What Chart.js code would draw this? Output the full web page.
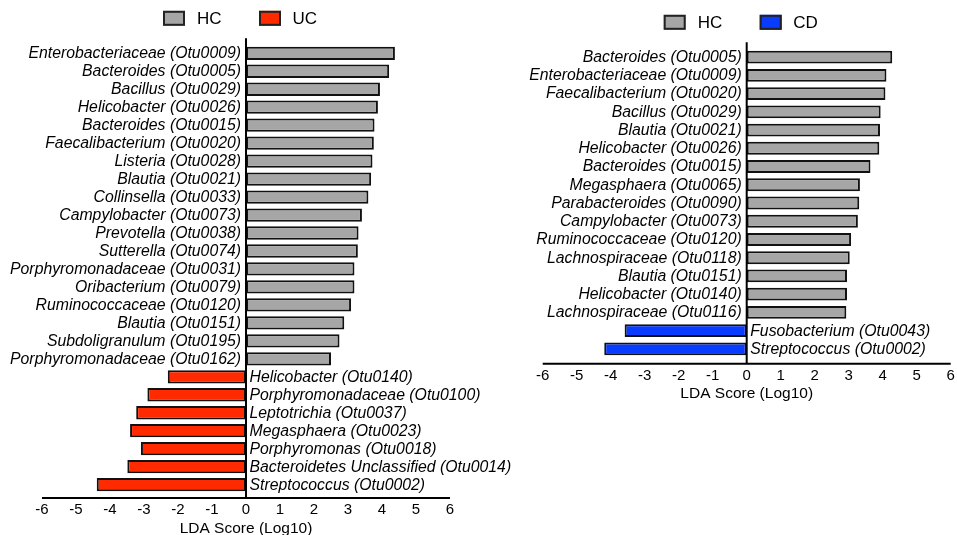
<!DOCTYPE html>
<html>
<head>
<meta charset="utf-8">
<script src="https://cdn.jsdelivr.net/npm/chart.js@4.4.1/dist/chart.umd.min.js"></script>
<style>
  html, body { margin: 0; padding: 0; background: #fff; }
  #wrap { position: relative; width: 957px; height: 535px; overflow: hidden; }
  #ucChart { position: absolute; left: 0; top: 0; }
  #cdChart { position: absolute; left: 490px; top: 0; }
</style>
</head>
<body>
<div id="wrap">
  <canvas id="ucChart" width="540" height="536"></canvas>
  <canvas id="cdChart" width="490" height="410"></canvas>
</div>
<script>
// LDA scores
const xMin = -6;
const xMax = 6;
const xStep = 1;

// HC vs UC
const hcTaxaUC = [
  'Enterobacteriaceae (Otu0009)', 'Bacteroides (Otu0005)', 'Bacillus (Otu0029)',
  'Helicobacter (Otu0026)', 'Bacteroides (Otu0015)', 'Faecalibacterium (Otu0020)',
  'Listeria (Otu0028)', 'Blautia (Otu0021)', 'Collinsella (Otu0033)',
  'Campylobacter (Otu0073)', 'Prevotella (Otu0038)', 'Sutterella (Otu0074)',
  'Porphyromonadaceae (Otu0031)', 'Oribacterium (Otu0079)', 'Ruminococcaceae (Otu0120)',
  'Blautia (Otu0151)', 'Subdoligranulum (Otu0195)', 'Porphyromonadaceae (Otu0162)'
];
const hcScoresUC = [4.38, 4.21, 3.94, 3.88, 3.78, 3.76, 3.72, 3.68, 3.60,
  3.41, 3.31, 3.29, 3.19, 3.19, 3.09, 2.89, 2.75, 2.50];
const ucTaxa = [
  'Helicobacter (Otu0140)', 'Porphyromonadaceae (Otu0100)', 'Leptotrichia (Otu0037)',
  'Megasphaera (Otu0023)', 'Porphyromonas (Otu0018)', 'Bacteroidetes Unclassified (Otu0014)',
  'Streptococcus (Otu0002)'
];
const ucScores = [-2.30, -2.90, -3.23, -3.41, -3.09, -3.49, -4.39];

// HC vs CD
const hcTaxaCD = [
  'Bacteroides (Otu0005)', 'Enterobacteriaceae (Otu0009)', 'Faecalibacterium (Otu0020)',
  'Bacillus (Otu0029)', 'Blautia (Otu0021)', 'Helicobacter (Otu0026)',
  'Bacteroides (Otu0015)', 'Megasphaera (Otu0065)', 'Parabacteroides (Otu0090)',
  'Campylobacter (Otu0073)', 'Ruminococcaceae (Otu0120)', 'Lachnospiraceae (Otu0118)',
  'Blautia (Otu0151)', 'Helicobacter (Otu0140)', 'Lachnospiraceae (Otu0116)'
];
const hcScoresCD = [4.28, 4.11, 4.08, 3.94, 3.92, 3.90, 3.64, 3.33, 3.31,
  3.27, 3.07, 3.03, 2.95, 2.95, 2.93];
const cdTaxa = ['Fusobacterium (Otu0043)', 'Streptococcus (Otu0002)'];
const cdScores = [-3.59, -4.19];

const FONT = '"Liberation Sans", Arial, Helvetica, sans-serif';

// zero line, bottom axis line, taxon labels and legend
const lefsePlugin = {
  id: 'lefse',
  afterDatasetsDraw(chart, args, opts) {
    const { ctx, chartArea } = chart;
    const xs = chart.scales.x;
    const ys = chart.scales.y;
    const zero = xs.getPixelForValue(0);
    const lineTop = chartArea.top - opts.topGap;
    const axisY = chartArea.bottom + opts.axisGap;

    ctx.save();
    ctx.strokeStyle = '#000';
    ctx.lineWidth = 2;
    ctx.beginPath();
    ctx.moveTo(zero, lineTop);
    ctx.lineTo(zero, axisY);
    ctx.moveTo(chartArea.left, axisY);
    ctx.lineTo(chartArea.right, axisY);
    ctx.stroke();

    ctx.font = 'italic 15.8px ' + FONT;
    ctx.fillStyle = '#000';
    ctx.textBaseline = 'middle';
    const hcData = chart.data.datasets[0].data;
    chart.data.labels.forEach((name, i) => {
      const yy = ys.getPixelForValue(i) + 0.5;
      if (hcData[i] !== null) {
        ctx.textAlign = 'right';
        ctx.fillText(name, zero - 5, yy);
      } else {
        ctx.textAlign = 'left';
        ctx.fillText(name, zero + 3.5, yy);
      }
    });

    // legend
    const ly = lineTop - 20;
    ctx.font = '17px ' + FONT;
    ctx.textAlign = 'left';
    const items = [
      { ds: chart.data.datasets[0], box: zero - 83, text: zero - 49 },
      { ds: chart.data.datasets[1], box: zero + 13, text: zero + 46.5 }
    ];
    items.forEach(it => {
      ctx.fillStyle = it.ds.backgroundColor;
      ctx.fillRect(it.box, ly - 7.5, 22, 15);
      ctx.lineWidth = 2;
      ctx.strokeStyle = '#222';
      ctx.strokeRect(it.box + 1, ly - 6.5, 20, 13);
      ctx.fillStyle = '#000';
      ctx.fillText(it.ds.label, it.text, ly + 1);
    });
    ctx.restore();
  }
};

function makeChart(canvasId, hcTaxa, hcScores, otherTaxa, otherScores, otherName, otherColor, lay) {
  const labels = hcTaxa.concat(otherTaxa);
  const hcData = hcScores.concat(otherScores.map(() => null));
  const otherData = hcScores.map(() => null).concat(otherScores);
  return new Chart(document.getElementById(canvasId), {
    type: 'bar',
    data: {
      labels: labels,
      datasets: [
        { label: 'HC', data: hcData, backgroundColor: '#a6a6a6' },
        { label: otherName, data: otherData, backgroundColor: otherColor }
      ]
    },
    options: {
      indexAxis: 'y',
      responsive: false,
      animation: false,
      devicePixelRatio: 1,
      layout: { padding: lay.padding },
      datasets: {
        bar: {
          borderColor: '#111',
          borderWidth: 2,
          borderSkipped: false,
          barPercentage: lay.barPct,
          categoryPercentage: 1
        }
      },
      scales: {
        y: { type: 'category', stacked: true, display: false },
        x: {
          type: 'linear',
          stacked: true,
          min: xMin,
          max: xMax,
          afterFit(scale) { scale.height = lay.xHeight; },
          grid: { display: false, drawTicks: false },
          border: { display: false },
          ticks: {
            stepSize: xStep,
            padding: lay.tickPad,
            color: '#000',
            font: { family: FONT, size: 15 }
          },
          title: {
            display: true,
            text: 'LDA Score (Log10)',
            color: '#000',
            padding: 0,
            font: { family: FONT, size: 15.5, lineHeight: 1 }
          }
        }
      },
      plugins: {
        legend: { display: false },
        tooltip: { enabled: false },
        lefse: { topGap: lay.topGap, axisGap: lay.axisGap }
      }
    },
    plugins: [lefsePlugin]
  });
}

makeChart('ucChart', hcTaxaUC, hcScoresUC, ucTaxa, ucScores, 'UC', '#ff2a00', {
  padding: { left: 42, right: 90, top: 44.3, bottom: 0 },
  xHeight: 42.4, tickPad: 7.5, topGap: 6, axisGap: 4.4, barPct: 0.74
});

makeChart('cdChart', hcTaxaCD, hcScoresCD, cdTaxa, cdScores, 'CD', '#0a3cff', {
  padding: { left: 52.7, right: 29.3, top: 47.9, bottom: 8.6 },
  xHeight: 43.3, tickPad: 8.5, topGap: 5.6, axisGap: 5.6, barPct: 0.7
});
</script>
</body>
</html>
